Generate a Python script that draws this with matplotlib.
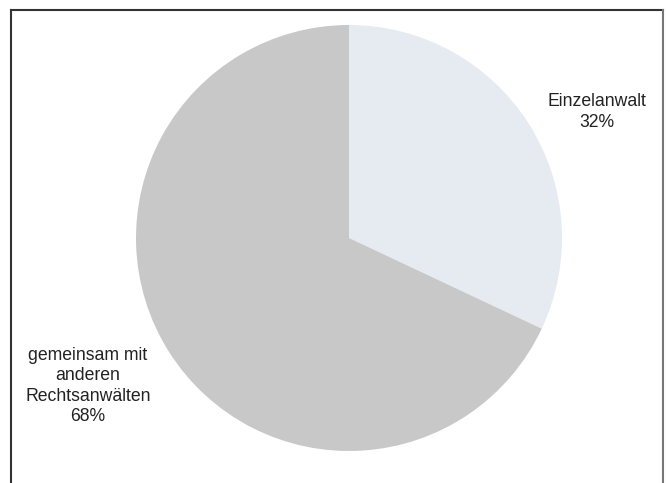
import matplotlib
matplotlib.use("Agg")
import matplotlib.pyplot as plt
from matplotlib.lines import Line2D

labels = ["Einzelanwalt", "gemeinsam mit\nanderen\nRechtsanwälten"]
values = [32, 68]
colors = ["#E6EAF1", "#C8C8C8"]

plt.rcParams['font.family'] = ['Liberation Sans', 'DejaVu Sans']

W, H = 666, 483
fig = plt.figure(figsize=(W / 100, H / 100), dpi=100)
ax = fig.add_axes([0, 0, 1, 1])
ax.pie(values, colors=colors, startangle=90, counterclock=False,
       center=(349, H - 238), radius=213,
       wedgeprops=dict(linewidth=0))
ax.set_xlim(0, W)
ax.set_ylim(0, H)
ax.set_aspect('auto')
ax.axis('off')

label_pos = [(597, H - 112), (88, H - 386)]
for lab, v, (x, y) in zip(labels, values, label_pos):
    ax.text(x, y, f"{lab}\n{v}%", ha='center', va='center', fontsize=12.7,
            linespacing=1.24, color='#222222')

# frame
fig.add_artist(Line2D([11 / W, 11 / W], [0, 1 - 10 / H], color='#333333', lw=1.5))
fig.add_artist(Line2D([11 / W, 663 / W], [1 - 10 / H, 1 - 10 / H], color='#333333', lw=1.5))
fig.add_artist(Line2D([663 / W, 663 / W], [0, 1 - 10 / H], color='#777777', lw=1.5))

fig.savefig("out.png", dpi=100)
